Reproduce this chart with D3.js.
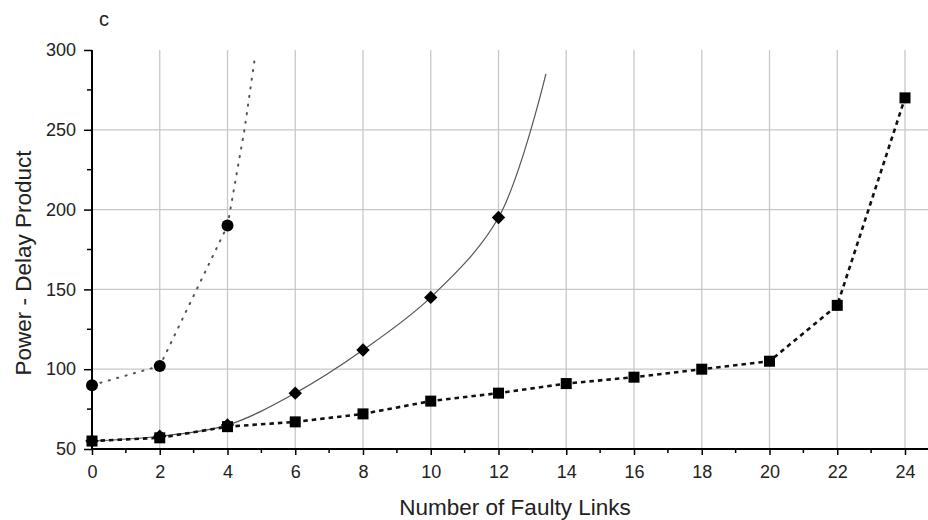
<!DOCTYPE html>
<html>
<head>
<meta charset="utf-8">
<script src="https://cdn.jsdelivr.net/npm/d3@7"></script>
<style>
  html, body { margin: 0; padding: 0; background: #fff; }
  svg { display: block; font-family: "Liberation Sans", Arial, sans-serif; }
</style>
</head>
<body>
<svg id="chart" width="928" height="520"></svg>
<script>
// ---- data ----
const xTicks = [0, 2, 4, 6, 8, 10, 12, 14, 16, 18, 20, 22, 24];
const xMinorTicks = [1, 3, 5, 7, 9, 11, 13, 15, 17, 19, 21, 23];
const yTicks = [50, 100, 150, 200, 250, 300];
const yMinorTicks = [75, 125, 175, 225, 275];

// dotted series (circles)
const dottedX = [0, 2, 4];
const dottedY = [90, 102, 190];
const dottedTailX = [4.5, 4.8];
const dottedTailY = [250, 294];

// solid series (diamonds)
const solidX = [0, 2, 4, 6, 8, 10, 12];
const solidY = [55, 58, 65, 85, 112, 145, 195];
const solidTailX = [13.4];
const solidTailY = [285];

// dashed series (squares)
const dashedX = [0, 2, 4, 6, 8, 10, 12, 14, 16, 18, 20, 22, 24];
const dashedY = [55, 57, 64, 67, 72, 80, 85, 91, 95, 100, 105, 140, 270];

const panelLabel = "c";
const xTitle = "Number of Faulty Links";
const yTitle = "Power - Delay Product";

// ---- drawing ----
const svg = d3.select("#chart");
const x = d3.scaleLinear().domain([0, 24]).range([92, 905]);
const y = d3.scaleLinear().domain([50, 300]).range([449, 50]);
const xEnd = 928;
const FONT = "'Liberation Sans', Arial, sans-serif";

const zip = (xs, ys) => xs.map((v, i) => [v, ys[i]]);

// grid
const grid = svg.append("g");
grid.selectAll("line.vg").data(xTicks.filter(d => d > 0)).join("line")
  .attr("x1", d => x(d)).attr("x2", d => x(d))
  .attr("y1", y(300)).attr("y2", y(50))
  .attr("stroke", "#c8c8c8").attr("stroke-width", 1.3);
grid.selectAll("line.hg").data(yTicks.filter(d => d > 50 && d < 300)).join("line")
  .attr("x1", x(0)).attr("x2", xEnd)
  .attr("y1", d => y(d)).attr("y2", d => y(d))
  .attr("stroke", "#c8c8c8").attr("stroke-width", 1.3);

// axes
const xAxis = d3.axisBottom(x).tickValues(xTicks).tickSize(6).tickPadding(10).tickFormat(d3.format("d"));
const gx = svg.append("g").attr("transform", `translate(0,${y(50)})`).call(xAxis);
gx.select(".domain").remove();
gx.append("line").attr("x1", x(0) - 1).attr("x2", xEnd).attr("stroke", "#000").attr("stroke-width", 2);
gx.selectAll(".tick line").attr("stroke-width", 1.5);
gx.selectAll(".tick text").attr("font-size", 18).attr("fill", "#222").style("font-family", FONT);
gx.selectAll("line.minor").data(xMinorTicks).join("line").attr("class", "minor")
  .attr("x1", d => x(d)).attr("x2", d => x(d)).attr("y1", 0).attr("y2", 4)
  .attr("stroke", "#000").attr("stroke-width", 1.5);

const yAxis = d3.axisLeft(y).tickValues(yTicks).tickSize(8).tickPadding(8).tickFormat(d3.format("d"));
const gy = svg.append("g").attr("transform", `translate(${x(0)},0)`).call(yAxis);
gy.select(".domain").remove();
gy.append("line").attr("y1", y(300)).attr("y2", y(50) + 1).attr("stroke", "#000").attr("stroke-width", 2);
gy.selectAll(".tick line").attr("stroke-width", 1.5);
gy.selectAll(".tick text").attr("font-size", 18).attr("fill", "#222").style("font-family", FONT);
gy.selectAll("line.minor").data(yMinorTicks).join("line").attr("class", "minor")
  .attr("x1", -5).attr("x2", 0).attr("y1", d => y(d)).attr("y2", d => y(d))
  .attr("stroke", "#000").attr("stroke-width", 1.5);

// lines
const lineSpline = d3.line().x(d => x(d[0])).y(d => y(d[1])).curve(d3.curveCatmullRom.alpha(0.5));
const lineLinear = d3.line().x(d => x(d[0])).y(d => y(d[1]));

const dottedLine = zip(dottedX, dottedY).concat(zip(dottedTailX, dottedTailY));
const solidLine = zip(solidX, solidY).concat(zip(solidTailX, solidTailY));
const dashedLine = zip(dashedX, dashedY);

svg.append("path").datum(dottedLine).attr("d", lineLinear)
  .attr("fill", "none").attr("stroke", "#555").attr("stroke-width", 2)
  .attr("stroke-dasharray", "1.2,7.5").attr("stroke-linecap", "round");
svg.append("path").datum(solidLine).attr("d", lineSpline)
  .attr("fill", "none").attr("stroke", "#555").attr("stroke-width", 1.2);
svg.append("path").datum(dashedLine).attr("d", lineLinear)
  .attr("fill", "none").attr("stroke", "#111").attr("stroke-width", 2.6)
  .attr("stroke-dasharray", "4.5,4");

// markers
svg.selectAll("rect.sq").data(zip(dashedX, dashedY)).join("rect").attr("class", "sq")
  .attr("x", d => x(d[0]) - 5.5).attr("y", d => y(d[1]) - 5.5)
  .attr("width", 11).attr("height", 11).attr("fill", "#000");
svg.selectAll("path.dm").data(zip(solidX, solidY)).join("path").attr("class", "dm")
  .attr("d", d3.symbol().type(d3.symbolSquare).size(90)())
  .attr("transform", d => `translate(${x(d[0])},${y(d[1])}) rotate(45)`)
  .attr("fill", "#000");
svg.selectAll("circle.ci").data(zip(dottedX, dottedY)).join("circle").attr("class", "ci")
  .attr("cx", d => x(d[0])).attr("cy", d => y(d[1])).attr("r", 6).attr("fill", "#000");

// titles
svg.append("text").attr("x", 104).attr("y", 26).attr("text-anchor", "middle")
  .attr("font-size", 20).attr("fill", "#222").text(panelLabel);
svg.append("text").attr("x", 515).attr("y", 515).attr("text-anchor", "middle")
  .attr("font-size", 22.5).attr("fill", "#222").text(xTitle);
svg.append("text").attr("transform", `translate(31,263) rotate(-90)`)
  .attr("text-anchor", "middle").attr("font-size", 22.5).attr("fill", "#222").text(yTitle);
</script>
</body>
</html>
